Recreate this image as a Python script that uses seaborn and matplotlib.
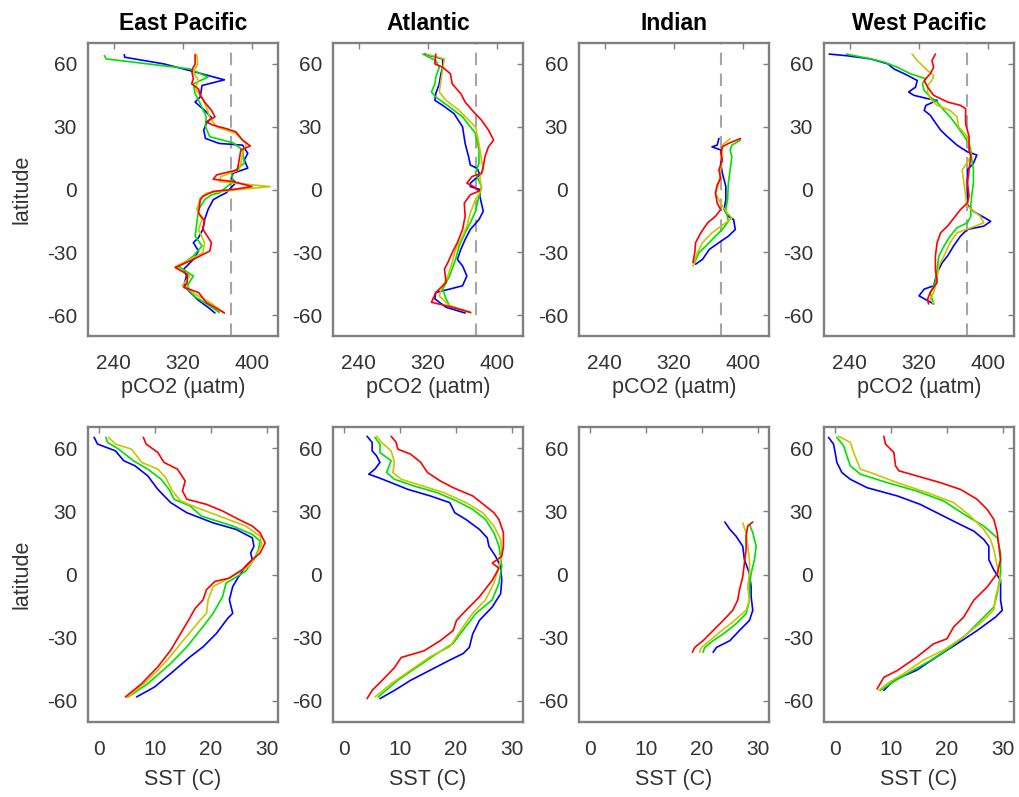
import matplotlib
matplotlib.use("Agg")
import matplotlib.pyplot as plt
import seaborn as sns
import pandas as pd

# ---------------- data ----------------
OCEANS = ["East Pacific", "Atlantic", "Indian", "West Pacific"]
RUNS = ["blue", "green", "yellow", "red"]
RUN_COLORS = {"blue": "#0000ff", "green": "#00e000", "yellow": "#c8c400", "red": "#ff0000"}
PCO2_TICKS = [240, 320, 400]
SST_TICKS = [0, 10, 20, 30]
LAT_TICKS = [-60, -30, 0, 30, 60]
PCO2_REF = 375

# East Pacific pCO2
EP_PCO2_BLUE_LAT = [64.4, 63.2, 60, 56.8, 52.4, 49.7, 44.2, 41.8, 37.8, 34.4, 31.5, 28.4, 24.4, 22, 21.2, 17.3, 14.1, 10.2, 7.8, 5.4, 3.2, -1.6, -3.2, -4.9, -9.6, -14.4, -19, -23, -25.4, -29.4, -33.4, -38, -41.3, -46, -49, -53, -56.3, -59]
EP_PCO2_BLUE_VAL = [252, 252.5, 298, 328, 368, 342, 340, 334, 345, 353, 347, 344, 346, 362, 389, 395, 391, 395, 378, 376, 381, 370, 362, 355, 349, 345, 343, 338, 332, 338, 332, 321, 324, 321, 328, 338, 349, 357]
EP_PCO2_GREEN_LAT = [64, 62.4, 57.6, 53.7, 50.5, 45.8, 41, 34.7, 30, 25.2, 22.3, 18.9, 12.5, 7.8, 3.8, -1.7, -2.5, -4.9, -9.6, -16, -22.3, -27, -31.8, -36.8, -41.3, -46, -50.8, -54, -58.7]
EP_PCO2_GREEN_VAL = [229, 231, 328, 349, 332, 334, 340, 347, 346, 351, 378, 389, 391, 376, 378, 362, 353, 345, 338, 336, 334, 342, 332, 315, 332, 325, 332, 345, 362]
EP_PCO2_YELLOW_LAT = [64.4, 60, 56, 52.1, 48.1, 44.2, 39.4, 34.4, 29.9, 26.8, 22, 17.3, 12.5, 9.4, 6.2, 3.8, 1.4, -0.2, -1.7, -4.1, -9.6, -14.4, -19.1, -25.4, -30.2, -33.4, -36.8, -41.3, -46, -50, -53.9, -59]
EP_PCO2_YELLOW_VAL = [336, 337, 332, 338, 334, 342, 347, 351, 359, 381, 393, 389, 387, 385, 364, 362, 421, 381, 347, 340, 336, 342, 338, 345, 343, 328, 311, 328, 319, 334, 351, 368]
EP_PCO2_RED_LAT = [64.4, 60, 56.8, 52.9, 50.5, 48, 45, 41.8, 37.8, 34.7, 32.3, 30.7, 29.1, 27.6, 23.6, 20.8, 18.9, 14.1, 9.4, 7, 4.9, 3.8, 1.4, 0.2, -0.9, -3.3, -4.9, -11.2, -15, -19, -25.4, -29.4, -33.4, -37.3, -40.5, -44.4, -46.8, -49.2, -54, -59]
EP_PCO2_RED_VAL = [334, 334, 330, 332, 330, 338, 340, 345, 353, 357, 347, 355, 370, 381, 389, 398, 387, 385, 383, 359, 355, 378, 400, 381, 355, 343, 340, 338, 345, 343, 353, 351, 332, 311, 325, 325, 321, 338, 347, 368]

# Atlantic pCO2
AT_PCO2_BLUE_LAT = [64.7, 62.4, 58.4, 55.3, 50.5, 45.8, 42.6, 40.2, 36.3, 30, 22, 15.7, 11.7, 10.1, 7, 3, 1.4, 0, -3.2, -10.4, -14.4, -19.1, -23.9, -28.6, -33.4, -36.5, -41.3, -46, -47.6, -49.2, -52.3, -56.3, -59]
AT_PCO2_BLUE_VAL = [316, 337, 337, 335, 333, 329, 328, 337, 350, 360, 363, 367, 369, 377, 380, 369, 369, 380, 380, 384, 379, 369, 363, 358, 354, 360, 365, 360, 345, 329, 328, 341, 363]
AT_PCO2_GREEN_LAT = [64.7, 61.6, 58.4, 53.7, 50.5, 46.6, 44.2, 39.4, 34.7, 26.8, 18.9, 12.5, 7.8, 1.4, -3.3, -10.4, -15.9, -20.7, -27, -33.4, -41.3, -47.6, -52.3, -55.5, -58.7]
AT_PCO2_GREEN_VAL = [314, 329, 333, 329, 328, 324, 329, 345, 360, 375, 379, 379, 375, 382, 379, 375, 369, 363, 356, 352, 345, 337, 341, 345, 369]
AT_PCO2_YELLOW_LAT = [64.7, 62.4, 57.6, 52.1, 46.6, 42.6, 37.8, 29.9, 22, 14.1, 9.4, 6.2, 0, -4.9, -11.2, -17.5, -22.3, -28.6, -34.9, -41.3, -46, -50.8, -55.5, -59]
AT_PCO2_YELLOW_VAL = [318, 339, 337, 335, 333, 341, 356, 375, 379, 382, 384, 380, 382, 375, 369, 365, 360, 352, 348, 343, 337, 333, 345, 370]
AT_PCO2_RED_LAT = [64.7, 60, 58.4, 55.3, 50.5, 45.8, 41.8, 37, 33.1, 28.4, 23.6, 20.4, 15.7, 10.9, 7.8, 6.2, 3, 1.4, -0.8, -2.5, -6.5, -12.8, -19.1, -25.4, -30.2, -34.9, -38.1, -44.4, -49.2, -53.9, -55.5, -58.7]
AT_PCO2_RED_VAL = [329, 328, 337, 346, 348, 358, 363, 373, 382, 390, 396, 390, 386, 384, 382, 371, 365, 373, 379, 369, 362, 363, 360, 354, 348, 343, 339, 341, 329, 324, 341, 369]

# Indian pCO2
IN_PCO2_BLUE_LAT = [24.4, 21.2, 20.4, 18.9, 15.7, 12.5, 7.8, 1.5, -4.9, -9.6, -12.8, -14.4, -19.1, -22.3, -25.4, -28.6, -33.4, -35.7]
IN_PCO2_BLUE_VAL = [372, 370, 364, 374, 376, 374, 376, 380, 380, 378, 383, 389, 391, 383, 372, 361, 353, 345]
IN_PCO2_GREEN_LAT = [23.6, 21.2, 18.9, 15.7, 9.4, 3.2, -4.9, -9.6, -15.2, -19.1, -22.3, -27, -30.2, -34.9]
IN_PCO2_GREEN_VAL = [397, 387, 385, 387, 385, 383, 382, 380, 383, 376, 368, 357, 349, 344]
IN_PCO2_YELLOW_LAT = [24.4, 21.2, 15.7, 9.4, 3.2, -1.7, -6.5, -10.4, -13.6, -15.9, -20.7, -25.4, -30.2, -36.5]
IN_PCO2_YELLOW_VAL = [385, 376, 376, 374, 372, 368, 374, 380, 387, 380, 364, 353, 347, 342]
IN_PCO2_RED_LAT = [24.4, 22, 20.4, 17.3, 14.1, 9.4, 5.4, 2.2, -1.7, -6.5, -9.6, -12.8, -15.9, -20.7, -25.4, -30.2, -34.9]
IN_PCO2_RED_VAL = [397, 383, 376, 374, 376, 372, 374, 370, 368, 370, 374, 368, 359, 351, 345, 344, 342]

# West Pacific pCO2
WP_PCO2_BLUE_LAT = [64.7, 63.9, 62.4, 60, 57.6, 55.3, 52.1, 48.9, 46.6, 45, 43.4, 42.6, 40.2, 37.8, 35.5, 33.1, 28.4, 25.2, 21.2, 18, 16.5, 12.5, 9.4, 3.2, -3.2, -7.2, -10.4, -12.8, -15.2, -17.5, -19.1, -22.3, -27, -31.8, -34.9, -39.7, -46, -47.6, -50.8, -53.1, -54.7]
WP_PCO2_BLUE_VAL = [216, 237, 264, 284, 291, 303, 318, 316, 308, 314, 330, 341, 328, 326, 333, 337, 345, 353, 364, 376, 387, 383, 376, 376, 376, 376, 383, 393, 403, 395, 376, 368, 360, 353, 347, 341, 337, 326, 320, 330, 337]
WP_PCO2_GREEN_LAT = [64.7, 62.4, 60.8, 58.4, 55.3, 52.9, 50.5, 47.3, 44.2, 41.8, 37.8, 34.7, 31.5, 26.8, 22, 18.9, 14.9, 9.4, 3.2, -3.2, -7.9, -12.8, -15.9, -18.3, -22.3, -27, -31.8, -38.1, -44.4, -49.2, -54.7]
WP_PCO2_GREEN_VAL = [236, 264, 280, 295, 310, 328, 324, 326, 333, 341, 349, 356, 362, 370, 378, 380, 381, 383, 383, 381, 380, 380, 376, 364, 356, 349, 343, 341, 339, 333, 337]
WP_PCO2_YELLOW_LAT = [64.7, 61.6, 59.2, 56.8, 54.5, 52.1, 49.7, 46.6, 43.4, 40.2, 37.8, 34.7, 29.9, 25.2, 20.4, 15.7, 11.7, 9.4, 3.2, -3.2, -7.9, -12.8, -15.9, -18.3, -20.7, -25.4, -31.8, -36.5, -42.9, -49.2, -52.3, -54.7]
WP_PCO2_YELLOW_VAL = [312, 318, 324, 330, 337, 335, 330, 330, 333, 341, 356, 364, 366, 376, 378, 380, 374, 370, 372, 374, 376, 391, 395, 380, 364, 356, 349, 343, 341, 337, 333, 337]
WP_PCO2_RED_LAT = [64.7, 61.6, 58.4, 55.3, 52.1, 48.9, 45, 41.8, 40.2, 38.6, 31.5, 25.2, 18.9, 15.7, 9.4, 3.2, -3.2, -6.4, -9.6, -12.8, -17.5, -20.7, -25.4, -31.8, -38.1, -44.4, -49.2, -52.3, -54.7]
WP_PCO2_RED_VAL = [339, 335, 337, 333, 326, 330, 337, 353, 368, 374, 374, 378, 378, 380, 378, 376, 378, 376, 368, 362, 353, 345, 341, 339, 339, 341, 333, 330, 331]

# East Pacific SST
EP_SST_BLUE_LAT = [65.1, 61.9, 58.7, 54, 51.6, 46.8, 40.4, 34.1, 29.3, 24.5, 21.4, 17.4, 13.4, 10.2, 7.1, 3.9, -1.7, -5.7, -12, -18.4, -20.8, -27.9, -34.3, -39, -47, -53.4, -58.1]
EP_SST_BLUE_VAL = [-0.9, -0.3, 2.9, 4.4, 6.4, 8.7, 10.5, 12.8, 15.7, 20.4, 24.5, 27.4, 27.7, 27.1, 27.4, 26.2, 24.8, 23.9, 23.3, 23.9, 23, 21, 18.6, 16.3, 12.8, 9.9, 6.7]
EP_SST_GREEN_LAT = [65.1, 62.7, 59.5, 54, 50, 45.2, 40.4, 35.7, 32.5, 27.7, 23, 19, 15.8, 11.8, 7.1, 1.5, -4.1, -10.4, -18.4, -24.7, -34.3, -42.2, -51.8, -58.1]
EP_SST_GREEN_VAL = [1.2, 1.5, 3.5, 6.1, 8.7, 11.1, 12.5, 13.4, 16.3, 18.3, 23.9, 27.4, 28.8, 28.5, 27.7, 26.2, 22.7, 22.1, 20.4, 18.6, 15.7, 12.8, 8.7, 5.2]
EP_SST_YELLOW_LAT = [65.1, 61.9, 59.5, 53.2, 50, 46, 39.6, 34.9, 31.7, 27.7, 23, 18.2, 14.2, 8.6, 3.9, -2.5, -5.7, -12, -18.4, -21.6, -31.1, -40.6, -50.2, -58.4]
EP_SST_YELLOW_VAL = [1.7, 2.9, 5.8, 7.6, 10.5, 11.9, 13.1, 14.6, 17.5, 21.5, 26.2, 28.8, 29.1, 28, 26.8, 22.7, 20.4, 19.5, 19.2, 18.1, 15.1, 12.2, 8.7, 5]
EP_SST_RED_LAT = [65.1, 61.9, 57.9, 53.2, 50, 44.4, 39.6, 35.7, 33.3, 30.1, 26.1, 23, 19.8, 15, 10.2, 7.1, 2.3, -1.7, -3.3, -7.2, -12, -16, -21.6, -27.9, -35.9, -43.8, -51.8, -58.1]
EP_SST_RED_VAL = [7.9, 8.4, 10.5, 11.6, 14, 15.4, 14.9, 15.7, 19.2, 22.1, 25, 27.4, 28.8, 29.7, 28.8, 27.4, 25.6, 23.3, 20.7, 19.2, 18.6, 17.2, 16, 14.6, 12.8, 10.5, 7.6, 4.7]

# Atlantic SST
AT_SST_BLUE_LAT = [65.6, 62.7, 58.7, 56.3, 53.2, 50, 47.6, 46, 43.6, 40.4, 37.3, 34.1, 29.3, 26.1, 21.4, 17.4, 13.4, 8.6, 3.7, -2.7, -9.1, -15.4, -21.8, -28.2, -34.6, -37.5, -40.6, -45.4, -50.2, -55, -58.9]
AT_SST_BLUE_VAL = [4.1, 5, 5, 5.8, 6.4, 5.5, 4.4, 6.1, 8.4, 11.4, 15.4, 18.9, 19.8, 21.8, 24.2, 25.6, 25.9, 27.1, 28, 28.2, 28, 26.5, 24.2, 23, 22.4, 21.3, 18.9, 15.4, 11.9, 9, 6.4]
AT_SST_GREEN_LAT = [65.1, 61.9, 57.9, 54, 48.4, 45.2, 42, 38.9, 34.9, 30.9, 26.1, 19.8, 13.4, 3.9, -4.1, -12, -18.4, -26.3, -32.7, -37.5, -43.8, -50.2, -58.1]
AT_SST_GREEN_VAL = [5.5, 6.4, 6.4, 8.4, 7.6, 9, 12.5, 16.6, 20.1, 23, 25.3, 26.8, 27.7, 28.2, 27.7, 26.5, 23.6, 21.3, 19.5, 16.6, 13.1, 9.6, 6.1]
AT_SST_YELLOW_LAT = [65.6, 62.7, 58.7, 53.2, 48.4, 45.2, 42.8, 38.9, 34.1, 29.3, 23, 16.7, 10.2, 3.9, -4.1, -12, -18.4, -24.7, -34.3, -39, -45.4, -51.8, -58.1]
AT_SST_YELLOW_VAL = [5.8, 6.7, 8.4, 9, 8.7, 10.2, 13.1, 17.8, 21.8, 24.8, 26.8, 28, 28.2, 27.7, 26.8, 25.3, 23, 21.3, 18.9, 15.4, 11.9, 8.4, 5.5]
AT_SST_RED_LAT = [65.6, 62.7, 59.5, 57.1, 53.2, 48.4, 44.4, 41.2, 37.3, 32.5, 29.3, 26.1, 19.8, 13.4, 8.6, 5.4, 3, -2.7, -10.6, -17, -21.8, -26.6, -31.4, -36.2, -39.4, -44.2, -50.5, -55, -58.9]
AT_SST_RED_VAL = [8.4, 9.3, 9.6, 11.9, 13.7, 14.9, 17.2, 19.5, 23, 25.3, 26.8, 27.7, 28.5, 28.5, 28.2, 26.5, 27.7, 26.5, 24.2, 21.8, 20.1, 19.5, 17.2, 14.3, 10.2, 9, 6.7, 5, 4.1]

# Indian SST
IN_SST_BLUE_LAT = [24.9, 21.4, 18.2, 13.4, 7, 0.5, -5.9, -10.6, -17, -21.8, -26.6, -31.4, -34.6, -36.9]
IN_SST_BLUE_VAL = [24.1, 25, 26.1, 27.3, 27.6, 28.5, 28.8, 28.8, 29.1, 28.5, 26.7, 25, 22.6, 22]
IN_SST_GREEN_LAT = [23.8, 19.8, 13.4, 7, 0.5, -5.9, -12.2, -18.6, -23.4, -28.2, -31.4, -34.6, -36.9]
IN_SST_GREEN_VAL = [28.5, 29.1, 29.7, 29.4, 28.8, 28.5, 28.5, 27.9, 26.1, 23.8, 22, 20.5, 20.2]
IN_SST_YELLOW_LAT = [24.5, 19.8, 13.4, 7, 0.5, -5.9, -12.2, -17, -22.6, -27.3, -31.4, -34.6, -36.9]
IN_SST_YELLOW_VAL = [27.3, 27.9, 28.2, 28.5, 28.5, 28.2, 28.5, 27.9, 25.5, 23.2, 21.4, 19.9, 19.6]
IN_SST_RED_LAT = [24.9, 23, 18.2, 11.8, 5.4, -1.1, -7.5, -12.2, -17, -21.8, -26.6, -31.4, -34.6, -36.9]
IN_SST_RED_VAL = [29.1, 28.2, 27.9, 27.9, 27.6, 27.3, 26.7, 26.4, 25.5, 23.8, 22, 20.2, 18.7, 18.3]

# West Pacific SST
WP_SST_BLUE_LAT = [65.1, 61.9, 57.9, 53.2, 48.4, 45.2, 41.2, 37.3, 33.3, 28.5, 24.5, 20.6, 16.6, 13.4, 7, 2.1, -2.7, -12.2, -17, -20.2, -26.6, -32.9, -39, -45.4, -50.2, -55]
WP_SST_BLUE_VAL = [-1.2, -0.3, 0, 0.3, 1.2, 2.7, 5.7, 11.1, 15.2, 18.8, 21.8, 24.8, 26.6, 27.5, 27.5, 28.4, 29.6, 29.6, 29.9, 28.7, 25.4, 21.8, 18.2, 14.6, 10.5, 8.7]
WP_SST_GREEN_LAT = [65.1, 61.1, 56.3, 51.6, 47.6, 43.6, 39.6, 34.9, 27.7, 23, 17.4, 10.2, 0.5, -9.1, -15.4, -20.2, -28.2, -34.6, -40.9, -47, -51.8, -55]
WP_SST_GREEN_VAL = [0.3, 1.5, 2.1, 2.7, 4.5, 9.3, 14.6, 19.4, 23.6, 26.6, 29, 29.6, 29.6, 29, 28.4, 26.6, 23.6, 20.6, 17, 12.9, 9.9, 8.1]
WP_SST_YELLOW_LAT = [65.6, 62.7, 57.9, 50, 48.4, 43.6, 38.9, 34.1, 27.7, 21.4, 16.6, 11.8, 3.9, -2.5, -10.4, -16.8, -23.1, -29.5, -35.9, -40.6, -47, -51.8, -55]
WP_SST_YELLOW_VAL = [0.6, 2.7, 3.3, 4.5, 6.3, 11.1, 16.4, 21.2, 24.2, 26.6, 27.8, 28.4, 29, 29.6, 28.7, 28.4, 26, 23, 19.4, 15.8, 12.3, 9.3, 7.8]
WP_SST_RED_LAT = [65.6, 61.9, 57.9, 51.6, 49.2, 46.8, 43.6, 40.4, 35.7, 30.9, 26.1, 19.8, 13.4, 7, 0.5, -5.9, -12.2, -20.2, -24.9, -30.5, -32.9, -39.2, -45.6, -48.8, -54.3]
WP_SST_RED_VAL = [8.7, 9, 10.5, 10.8, 11.4, 14.6, 18.8, 22.4, 25.4, 27.2, 28.4, 29, 29.3, 29.6, 29, 27.2, 24.8, 23, 21.2, 20, 17.6, 14.6, 11.1, 8.7, 7.5]

# ---------------- long table ----------------
PREFIX = {"East Pacific": "EP", "Atlantic": "AT", "Indian": "IN", "West Pacific": "WP"}
G = globals()
rows = []
for ocean in OCEANS:
    for var in ["PCO2", "SST"]:
        for run in RUNS:
            key = f"{PREFIX[ocean]}_{var}_{run.upper()}"
            lats = G[key + "_LAT"]
            vals = G[key + "_VAL"]
            for i, (la, v) in enumerate(zip(lats, vals)):
                rows.append({"ocean": ocean, "var": var, "run": run, "lat": la, "value": v, "order": i})
df = pd.DataFrame(rows)

# ---------------- figure ----------------
sns.set_style("white")
plt.rcParams["font.family"] = ["Liberation Sans", "DejaVu Sans"]
plt.rcParams["axes.unicode_minus"] = False

W, H = 1019, 797
fig = plt.figure(figsize=(W / 100, H / 100), dpi=100)
lefts = [88, 333, 579, 824]
width = 190
rows_px = {"PCO2": (43, 336), "SST": (427, 722)}

spine_c = "#808080"
text_c = "#333333"
TICK_FS = 15
LABEL_FS = 15.5
TITLE_FS = 16.5

for ci, ocean in enumerate(OCEANS):
    for var in ["PCO2", "SST"]:
        top, bot = rows_px[var]
        ax = fig.add_axes([lefts[ci] / W, 1 - bot / H, width / W, (bot - top) / H])
        sub = df[(df.ocean == ocean) & (df["var"] == var)]
        for run in RUNS:
            s = sub[sub.run == run].sort_values("order")
            sns.lineplot(data=s, x="value", y="lat", sort=False, estimator=None,
                         color=RUN_COLORS[run], lw=1.2, ax=ax, legend=False)
        if var == "PCO2":
            ax.axvline(PCO2_REF, color="#a6a6a6", lw=1.5, ls=(0, (6, 4)), zorder=0)
            ax.set_xlim(210, 430)
            ax.set_xticks(PCO2_TICKS)
            ax.set_xlabel("pCO2 (µatm)", fontsize=LABEL_FS, color=text_c, labelpad=3)
            ax.set_title(ocean, fontsize=TITLE_FS, fontweight="bold", color="black", pad=9)
        else:
            ax.set_xlim(-2, 32)
            ax.set_xticks(SST_TICKS)
            ax.set_xlabel("SST (C)", fontsize=LABEL_FS, color=text_c, labelpad=7)
        ax.set_ylim(-70, 70)
        ax.set_yticks(LAT_TICKS)
        if ci == 0:
            ax.set_ylabel("latitude", fontsize=LABEL_FS, color=text_c, labelpad=10)
        else:
            ax.set_ylabel("")
        for sp in ax.spines.values():
            sp.set_visible(True)
            sp.set_color(spine_c)
            sp.set_linewidth(1.7)
        ax.tick_params(direction="in", length=4, width=1, color=spine_c,
                       top=True, right=True, labelsize=TICK_FS, labelcolor=text_c)
        ax.tick_params(axis="x", pad=13)
        ax.tick_params(axis="y", pad=8)

fig.savefig("out.png", dpi=100)
